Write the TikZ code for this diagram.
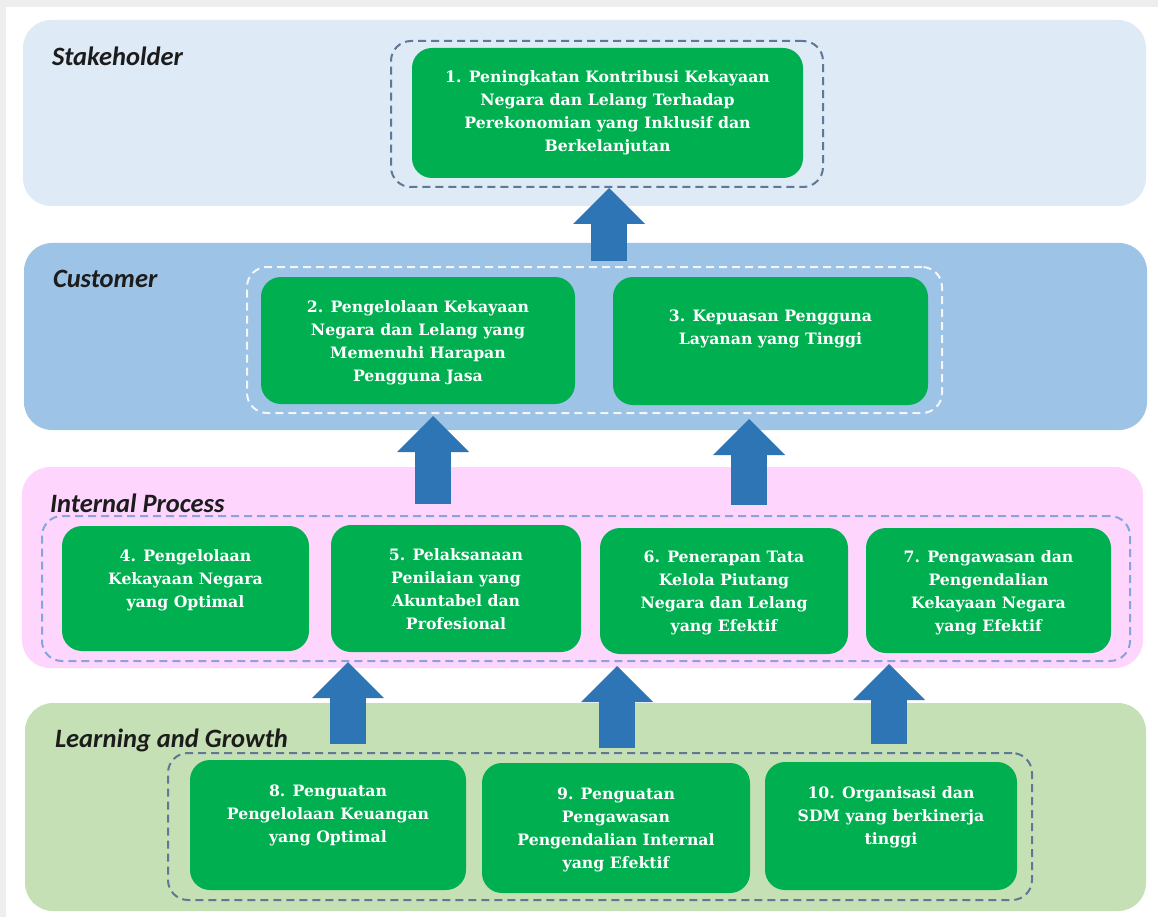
\documentclass[tikz,border=0pt]{standalone}
\usepackage{fontspec}
\usetikzlibrary{arrows.meta,calc}
\newfontfamily\labfont{Carlito}
\newfontfamily\boxfont{DejaVu Serif}
\definecolor{bgGray}{HTML}{EEEEEE}
\definecolor{bandA}{HTML}{DEEAF6}
\definecolor{bandB}{HTML}{9DC3E6}
\definecolor{bandC}{HTML}{FDD5FD}
\definecolor{bandD}{HTML}{C5E0B4}
\definecolor{boxGreen}{HTML}{00AF50}
\definecolor{arrowBlue}{HTML}{2E75B6}
\definecolor{dashDark}{HTML}{5E7896}
\definecolor{dashLight}{HTML}{F4F6FA}
\definecolor{dashMid}{HTML}{86A6DA}
\definecolor{labInk}{HTML}{1C1C1C}
\begin{document}
\begin{tikzpicture}[x=1pt,y=-1pt,
  band/.style={rounded corners=28pt,inner sep=0pt,draw=none},
  grp/.style={rounded corners=20pt,inner sep=0pt,dashed,line width=2pt,dash pattern=on 8pt off 5pt,fill=none},
  gbox/.style={rounded corners=20pt,inner sep=0pt,fill=boxGreen,draw=none},
  btext/.style={anchor=north,inner sep=0pt,align=center,text=white,font=\boxfont\bfseries\fontsize{15.7}{23}\selectfont},
  blab/.style={anchor=west,inner sep=0pt,text=labInk,font=\labfont\bfseries\itshape\fontsize{26.5}{28}\selectfont},
  bigarrow/.style={draw=arrowBlue,line width=36pt,-{Triangle[width=72pt,length=36pt,line width=0pt]}}
]
\useasboundingbox (0,0) rectangle (1158,917);
\fill[bgGray] (0,0) rectangle (1158,917);
\fill[white] (6,7) rectangle (1158,917);

% bands
\node[band,fill=bandA,minimum width=1123pt,minimum height=186pt] (b1) at (584.5,113) {};
\node[band,fill=bandB,minimum width=1123pt,minimum height=187pt] (b2) at (585.5,336.5) {};
\node[band,fill=bandC,minimum width=1121pt,minimum height=201pt] (b3) at (582.5,567.5) {};
\node[band,fill=bandD,minimum width=1121pt,minimum height=208pt] (b4) at (585.5,807) {};

% band labels
\node[blab] (l1) at ([shift={(29,37)}]b1.north west) {Stakeholder};
\node[blab] (l2) at ([shift={(29,36)}]b2.north west) {Customer};
\node[blab] (l3) at ([shift={(28,36)}]b3.north west) {Internal Process};
\node[blab] (l4) at ([shift={(30,38)}]b4.north west) {Learning and Growth};

% dashed groups
\node[grp,draw=dashDark,minimum width=432pt,minimum height=146pt] (g1) at (607,114) {};
\node[grp,draw=dashLight,minimum width=695pt,minimum height=146pt] (g2) at (594.5,340) {};
\node[grp,draw=dashMid,minimum width=1088pt,minimum height=145pt] (g3) at (586,588.5) {};
\node[grp,draw=dashDark,minimum width=864pt,minimum height=147pt] (g4) at (600,826.5) {};

% green boxes
\node[gbox,minimum width=391pt,minimum height=130pt] (k1) at (607.5,113) {};
\node[gbox,minimum width=314pt,minimum height=127pt] (k2) at (418,340.5) {};
\node[gbox,minimum width=315pt,minimum height=128pt] (k3) at (770.5,341) {};
\node[gbox,minimum width=247pt,minimum height=125pt] (k4) at (185.5,588.5) {};
\node[gbox,minimum width=250pt,minimum height=127pt] (k5) at (456,588.5) {};
\node[gbox,minimum width=248pt,minimum height=126pt] (k6) at (724,591) {};
\node[gbox,minimum width=245pt,minimum height=125pt] (k7) at (988.5,590.5) {};
\node[gbox,minimum width=276pt,minimum height=130pt] (k8) at (328,825) {};
\node[gbox,minimum width=268pt,minimum height=130pt] (k9) at (616,828) {};
\node[gbox,minimum width=252pt,minimum height=128pt] (k10) at (891,826) {};

% box texts
\node[btext] (t1) at ([yshift=-23pt]k1.north) {\rule{0pt}{11pt}1. Peningkatan Kontribusi Kekayaan\\Negara dan Lelang Terhadap\\Perekonomian yang Inklusif dan\\Berkelanjutan};
\node[btext] (t2) at ([yshift=-24pt]k2.north) {\rule{0pt}{11pt}2. Pengelolaan Kekayaan\\Negara dan Lelang yang\\Memenuhi Harapan\\Pengguna Jasa};
\node[btext] (t3) at ([yshift=-33pt]k3.north) {\rule{0pt}{11pt}3. Kepuasan Pengguna\\Layanan yang Tinggi};
\node[btext] (t4) at ([yshift=-24pt]k4.north) {\rule{0pt}{11pt}4. Pengelolaan\\Kekayaan Negara\\yang Optimal};
\node[btext] (t5) at ([yshift=-24pt]k5.north) {\rule{0pt}{11pt}5. Pelaksanaan\\Penilaian yang\\Akuntabel dan\\Profesional};
\node[btext] (t6) at ([yshift=-23pt]k6.north) {\rule{0pt}{11pt}6. Penerapan Tata\\Kelola Piutang\\Negara dan Lelang\\yang Efektif};
\node[btext] (t7) at ([yshift=-23pt]k7.north) {\rule{0pt}{11pt}7. Pengawasan dan\\Pengendalian\\Kekayaan Negara\\yang Efektif};
\node[btext] (t8) at ([yshift=-25pt]k8.north) {\rule{0pt}{11pt}8. Penguatan\\Pengelolaan Keuangan\\yang Optimal};
\node[btext] (t9) at ([yshift=-25pt]k9.north) {\rule{0pt}{11pt}9. Penguatan\\Pengawasan\\Pengendalian Internal\\yang Efektif};
\node[btext] (t10) at ([yshift=-25pt]k10.north) {\rule{0pt}{11pt}10. Organisasi dan\\SDM yang berkinerja\\tinggi};

% arrow x positions
\coordinate (x1) at (609,0);
\coordinate (x2) at (433,0);
\coordinate (x3) at (749,0);
\coordinate (x4) at (348,0);
\coordinate (x5) at (617,0);
\coordinate (x6) at (889,0);

% block arrows
\draw[bigarrow] ([yshift=5pt]g2.north -| x1) -- (g1.south -| x1);
\draw[bigarrow] ([yshift=11pt]g3.north -| x2) -- ([yshift=-2pt]g2.south -| x2);
\draw[bigarrow] ([yshift=10pt]g3.north -| x3) -- ([yshift=-5pt]g2.south -| x3);
\draw[bigarrow] ([yshift=8pt]g4.north -| x4) -- (g3.south -| x4);
\draw[bigarrow] ([yshift=4pt]g4.north -| x5) -- ([yshift=-4pt]g3.south -| x5);
\draw[bigarrow] ([yshift=8pt]g4.north -| x6) -- ([yshift=-2pt]g3.south -| x6);
\end{tikzpicture}
\end{document}
